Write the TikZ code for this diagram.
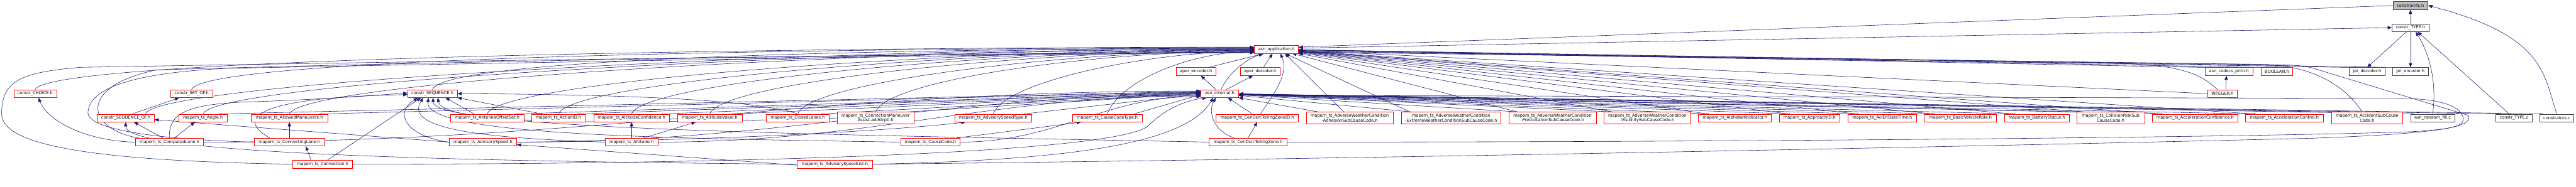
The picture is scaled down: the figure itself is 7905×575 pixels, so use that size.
\documentclass[tikz,border=0pt]{standalone}
\usepackage{fontspec}
\setmainfont{DejaVu Sans}
\usetikzlibrary{arrows.meta,backgrounds}
\definecolor{edgeblue}{RGB}{25,25,112}
\definecolor{boxred}{RGB}{255,0,0}
\tikzset{
  hdr/.style={draw=boxred, line width=1.2pt, fill=white, minimum height=24pt, inner sep=0pt, align=center},
  hdrtwo/.style={hdr, minimum height=36pt},
  srcfile/.style={hdr, draw=black!75},
  rootfile/.style={srcfile, fill=black!25},
  dep/.style={draw=edgeblue, line width=1.1pt, -{Triangle[length=13pt,width=10pt]}},
}

\begin{document}
\begin{tikzpicture}[x=1pt, y=-1pt, font=\fontsize{12.8}{14}\selectfont]
\useasboundingbox (0,0) rectangle (7905,575);

% the file itself and constr_TYPE.h
\node[rootfile, minimum width=107pt] (root) at (7397,17) {constraints.h};
\node[srcfile, minimum width=113pt] (ctypeh) at (7397,85) {constr\_TYPE.h};

% asn_application.h
\node[hdr, minimum width=135pt] (app) at (3917,152) {asn\_application.h};

% codec headers
\node[hdr, minimum width=121pt] (aenc) at (3670,220) {aper\_encoder.h};
\node[hdr, minimum width=121pt] (adec) at (3867,220) {aper\_decoder.h};
\node[hdr, minimum width=146pt] (prim) at (6840,220) {asn\_codecs\_prim.h};
\node[hdr, minimum width=97pt] (bool) at (6987,220) {BOOLEAN.h};
\node[srcfile, minimum width=110pt] (jdec) at (7264,220) {jer\_decoder.h};
\node[srcfile, minimum width=109pt] (jenc) at (7397,220) {jer\_encoder.h};

% constructed types and asn_internal.h
\node[hdr, minimum width=131pt] (choice) at (108,288) {constr\_CHOICE.h};
\node[hdr, minimum width=129pt] (setof) at (588,288) {constr\_SET\_OF.h};
\node[hdr, minimum width=152pt] (seq) at (1327,288) {constr\_SEQUENCE.h};
\node[hdr, minimum width=115pt] (intl) at (3743,288) {asn\_internal.h};
\node[hdr, minimum width=91pt] (int) at (6820,288) {INTEGER.h};

% mapem types, first row
\node[hdr, minimum width=175pt] (seqof) at (386,363) {constr\_SEQUENCE\_OF.h};
\node[hdr, minimum width=147pt] (angle) at (623,363) {mapem\_ts\_Angle.h};
\node[hdr, minimum width=235pt] (allowed) at (888,363) {mapem\_ts\_AllowedManeuvers.h};
\node[hdr, minimum width=225pt] (antenna) at (1495,363) {mapem\_ts\_AntennaOffsetSet.h};
\node[hdr, minimum width=165pt] (action) at (1714,363) {mapem\_ts\_ActionID.h};
\node[hdr, minimum width=233pt] (altconf) at (1938,363) {mapem\_ts\_AltitudeConfidence.h};
\node[hdr, minimum width=198pt] (altval) at (2178,363) {mapem\_ts\_AltitudeValue.h};
\node[hdr, minimum width=192pt] (closed) at (2448,363) {mapem\_ts\_ClosedLanes.h};
\node[hdrtwo, minimum width=237pt] (cmassist) at (2687,363) {mapem\_ts\_ConnectionManeuver\\Assist-addGrpC.h};
\node[hdr, minimum width=237pt] (adtype) at (3048,363) {mapem\_ts\_AdvisorySpeedType.h};
\node[hdr, minimum width=213pt] (cctype) at (3398,363) {mapem\_ts\_CauseCodeType.h};
\node[hdr, minimum width=253pt] (tzid) at (3858,363) {mapem\_ts\_CenDsrcTollingZoneID.h};
\node[hdrtwo, minimum width=267pt] (awadh) at (4142,363) {mapem\_ts\_AdverseWeatherCondition\\-AdhesionSubCauseCode.h};
\node[hdrtwo, minimum width=306pt] (awext) at (4453,363) {mapem\_ts\_AdverseWeatherCondition\\-ExtremeWeatherConditionSubCauseCode.h};
\node[hdrtwo, minimum width=268pt] (awpre) at (4764,363) {mapem\_ts\_AdverseWeatherCondition\\-PrecipitationSubCauseCode.h};
\node[hdrtwo, minimum width=267pt] (awvis) at (5055,363) {mapem\_ts\_AdverseWeatherCondition\\-VisibilitySubCauseCode.h};
\node[hdr, minimum width=224pt] (alpha) at (5324,363) {mapem\_ts\_AlphabetIndicator.h};
\node[hdr, minimum width=185pt] (approach) at (5553,363) {mapem\_ts\_ApproachID.h};
\node[hdr, minimum width=211pt] (avi) at (5776,363) {mapem\_ts\_AviEriDateTime.h};
\node[hdr, minimum width=222pt] (role) at (6016,363) {mapem\_ts\_BasicVehicleRole.h};
\node[hdr, minimum width=199pt] (battery) at (6250,363) {mapem\_ts\_BatteryStatus.h};
\node[hdrtwo, minimum width=208pt] (collision) at (6477,363) {mapem\_ts\_CollisionRiskSub\\CauseCode.h};
\node[hdr, minimum width=264pt] (accconf) at (6736,363) {mapem\_ts\_AccelerationConfidence.h};
\node[hdr, minimum width=239pt] (accctrl) at (7010,363) {mapem\_ts\_AccelerationControl.h};
\node[hdrtwo, minimum width=218pt] (accident) at (7264,363) {mapem\_ts\_AccidentSubCause\\Code.h};
\node[srcfile, minimum width=136pt] (rfill) at (7465,363) {asn\_random\_fill.c};
\node[srcfile, minimum width=112pt] (ctypec) at (7715,363) {constr\_TYPE.c};
\node[srcfile, minimum width=105pt] (cc) at (7846,363) {constraints.c};

% mapem types, second row
\node[hdr, minimum width=208pt] (computed) at (520,437) {mapem\_ts\_ComputedLane.h};
\node[hdr, minimum width=215pt] (connlane) at (888,437) {mapem\_ts\_ConnectingLane.h};
\node[hdr, minimum width=207pt] (advspeed) at (1482,437) {mapem\_ts\_AdvisorySpeed.h};
\node[hdr, minimum width=161pt] (alt) at (1938,437) {mapem\_ts\_Altitude.h};
\node[hdr, minimum width=183pt] (cause) at (2855,437) {mapem\_ts\_CauseCode.h};
\node[hdr, minimum width=239pt] (tz) at (3830,437) {mapem\_ts\_CenDsrcTollingZone.h};

% mapem types, third row
\node[hdr, minimum width=183pt] (conn) at (990,505) {mapem\_ts\_Connection.h};
\node[hdr, minimum width=231pt] (advlist) at (2562,505) {mapem\_ts\_AdvisorySpeedList.h};

\begin{scope}[on background layer]
% root, constr_TYPE.h and the jer codecs
\draw[dep] (ctypeh) -- (root);
\draw[dep] (cc.north) .. controls (7805,230) and (7812,110) .. (root.east);
\draw[dep] (root.west) -- ([yshift=7pt]app.east);
\draw[dep] ([yshift=4pt]app.east) -- (ctypeh.west);
\draw[dep] ([xshift=-12pt]ctypeh.south) -- (jdec.north);
\draw[dep] (ctypeh.south) -- (jenc.north);
\draw[dep] (rfill.north) .. controls (7478,260) and (7458,170) .. ([xshift=16pt]ctypeh.south);
\draw[dep] ([xshift=-15pt]ctypec.north) -- ([xshift=22pt]ctypeh.south);

% codec headers into asn_application.h
\foreach \n in {prim, bool, jdec, jenc}
  \draw[dep] (\n.north west) -- (app);
\draw[dep] ([xshift=10pt]int.north) -- ([xshift=-8pt]prim.south);
\draw[dep] ([xshift=-15pt]int.north) .. controls (6750,225) and (6690,200) .. (6500,195) .. controls (5500,185) and (4500,165) .. ([yshift=-3pt]app.east);
\draw[dep] (int.west) -- (app);

% asn_internal.h and the aper codecs
\draw[dep] ([xshift=-12pt]intl.north) -- ([xshift=15pt]aenc.south);
\draw[dep] ([xshift=20pt]intl.north) -- ([xshift=-22pt]adec.south);
\draw[dep] ([xshift=4pt]intl.north) .. controls (3770,225) and (3820,185) .. ([xshift=-42pt]app.south);
\draw[dep] ([xshift=38pt]aenc.north) -- ([xshift=-38pt]app.south);
\draw[dep] ([xshift=10pt]adec.north) -- ([xshift=-12pt]app.south);

% tolling zone and adhesion
\draw[dep] ([xshift=10pt]tzid.north) .. controls (3915,280) and (3955,225) .. ([xshift=12pt]app.south);
\draw[dep] ([xshift=-15pt]tzid.north) -- ([xshift=25pt]intl.south);
\draw[dep] (tz.north) -- (tzid.south);
\draw[dep] ([xshift=-43pt]tz.north) .. controls (3718,400) and (3708,340) .. ([xshift=-12pt]intl.south);
\draw[dep] ([xshift=-18pt]awadh.north) -- ([xshift=26pt]app.south);
\draw[dep] ([xshift=-95pt]awadh.north) -- (intl.south east);

% right-hand fan
\foreach \n in {awext, awpre, awvis, alpha, approach, avi, role, battery, collision, accconf, accctrl}{
  \draw[dep] ([xshift=28pt]\n.north west) -- (app);
  \draw[dep] ([xshift=34pt]\n.north west) -- (intl);
}
\foreach \n in {accident, rfill, ctypec, cc}
  \draw[dep] ([xshift=12pt]\n.north west) -- (intl);
\draw[dep] ([xshift=-15pt]accident.north) .. controls (7200,270) and (7110,205) .. (6950,198) -- ([yshift=-6pt]app.east);

% long loops round the right end
\draw[dep] (advlist.east) .. controls (4500,485) and (6500,440) .. (7100,425) .. controls (7500,410) and (7590,390) .. (7575,355) -- (7092,208) .. controls (7050,200) .. (6900,198) -- ([yshift=-8pt]app.east);
\draw[dep] (tz.east) .. controls (5500,437) and (7000,420) .. (7400,405) .. controls (7540,397) and (7565,385) .. (7558,360) .. controls (7550,330) and (7500,305) .. (7380,303) -- ([yshift=-5pt]intl.east);

% left side into asn_application.h
\foreach \n/\k/\d in {choice/7/1200, setof/5/1200, seq/3/980, angle/2/1200, allowed/1/1150, antenna/0/920, action/-1/830, altconf/-2/745, altval/-3/650, closed/-4/545, cmassist/-5/455, adtype/-6/310, cctype/-7/190}
  \draw[dep] (\n.north) .. controls +(38,-103) and +(-\d,0) .. ([yshift=\k pt]app.west);
\draw[dep] ([xshift=60pt]seqof.north) .. controls +(38,-103) and +(-1200,0) .. ([yshift=6pt]app.west);

% left side into asn_internal.h
\foreach \n/\k in {angle/7, allowed/6, antenna/5, action/4, altconf/3, altval/2, closed/1, cmassist/0, adtype/-1, cctype/-3}
  \draw[dep] ([xshift=-25pt]\n.north east) -- ([yshift=\k pt]intl.west);
\foreach \n/\k/\d in {computed/8/1195, advspeed/-5/820, alt/-7/650, cause/-9/295}
  \draw[dep] (\n.east) .. controls +(\d,0) and +(-\d,0) .. ([yshift=\k pt]intl.west);

% constructed types
\draw[dep] (computed.west) .. controls (280,435) and (150,380) .. ([xshift=10pt]choice.south);
\draw[dep] ([xshift=-20pt]computed.north) -- ([xshift=25pt]seqof.south);
\draw[dep] ([xshift=15pt]computed.north) -- ([xshift=-25pt]angle.south);
\draw[dep] (computed.north) .. controls (515,335) and (600,318) .. (800,312) .. controls (1000,305) and (1150,293) .. ([yshift=2pt]seq.west);
\draw[dep] ([xshift=20pt]seqof.north) -- ([xshift=-38pt]setof.south);
\draw[dep] (connlane) -- (allowed);
\draw[dep] ([xshift=-35pt]conn.north) -- ([xshift=50pt]connlane.south);
\draw[dep] ([xshift=15pt]conn.north) -- ([xshift=-35pt]seq.south);
\draw[dep] ([xshift=-60pt]connlane.north) .. controls (730,370) and (760,300) .. ([yshift=-3pt]seq.west);
\draw[dep] (advspeed.west) .. controls (1250,420) and (1205,350) .. ([xshift=-45pt]seq.south);
\draw[dep] (alt.west) .. controls (1500,425) and (1235,400) .. ([xshift=-28pt]seq.south);
\draw[dep] (cause.west) .. controls (2000,425) and (1300,415) .. ([xshift=-12pt]seq.south);
\draw[dep] (tz.west) .. controls (2600,415) and (1330,400) .. ([xshift=2pt]seq.south);
\draw[dep] (cmassist.west) .. controls (1800,385) and (1360,380) .. ([xshift=16pt]seq.south);
\draw[dep] ([xshift=-40pt]antenna.north) -- ([xshift=40pt]seq.south);
\draw[dep] ([xshift=-50pt]action.north) -- (seq.south east);
\draw[dep] (closed.north) .. controls (2300,300) and (1800,290) .. (seq.east);
\draw[dep] (advspeed.west) -- ([yshift=-5pt]seqof.east);

% altitude, cause code and advisory speed
\draw[dep] (alt) -- (altconf);
\draw[dep] ([xshift=37pt]alt.north) -- ([xshift=-43pt]altval.south);
\draw[dep] (advspeed.east) .. controls (2300,432) and (2800,395) .. ([xshift=-85pt]adtype.south);
\draw[dep] ([xshift=80pt]cause.north) -- ([xshift=-80pt]cctype.south);
\draw[dep] ([yshift=-3pt]advlist.west) -- ([yshift=-8pt]advspeed.east);
\draw[dep] (advlist.west) .. controls (1300,495) and (383,470) .. (seqof.south);
\draw[dep] (advlist.east) .. controls (3300,492) and (3640,440) .. ([xshift=-20pt]intl.south);
\draw[dep] (conn.east) .. controls (2300,505) and (3400,470) .. (3520,390) .. controls (3570,340) and (3630,310) .. ([xshift=-40pt]intl.south);

% loops round the left end
\draw[dep] (conn.west) .. controls (300,495) and (5,450) .. (5,350) .. controls (5,250) and (60,222) .. (250,207) .. controls (1500,185) and (3000,165) .. ([yshift=-8pt]app.west);
\draw[dep] ([xshift=-95pt]computed.north) .. controls (260,395) and (240,265) .. (480,215) .. controls (1500,185) and (3000,163) .. ([yshift=-9pt]app.west);
\draw[dep] (connlane.west) .. controls (500,430) and (265,400) .. (270,345) .. controls (275,260) and (450,222) .. (700,210) .. controls (2000,185) and (3200,165) .. ([yshift=-10pt]app.west);
\end{scope}
\end{tikzpicture}
\end{document}
